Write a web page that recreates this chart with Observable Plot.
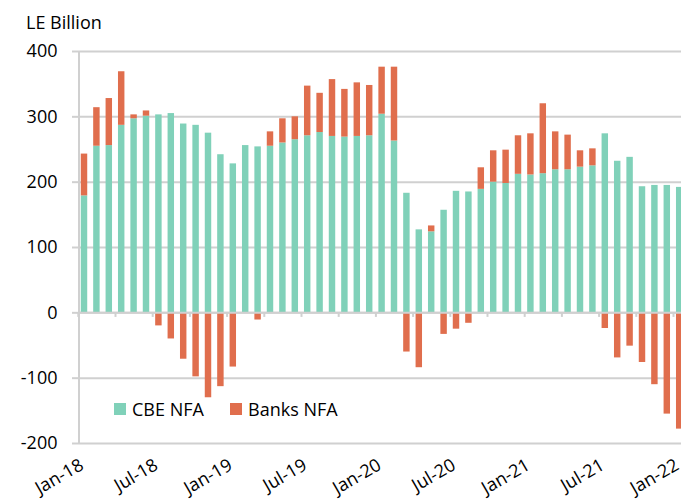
<!DOCTYPE html>
<html>
<head>
<meta charset="utf-8">
<script src="https://cdn.jsdelivr.net/npm/d3@7"></script>
<script src="https://cdn.jsdelivr.net/npm/@observablehq/plot@0.6"></script>
<style>
  html, body { margin: 0; padding: 0; background: #fff; overflow: hidden; }
  #chart svg { display: block; }
</style>
</head>
<body>
<div id="chart"></div>
<script>
// ---- data ----
const months = [
  "Jan-18","Feb-18","Mar-18","Apr-18","May-18","Jun-18","Jul-18","Aug-18","Sep-18","Oct-18","Nov-18","Dec-18",
  "Jan-19","Feb-19","Mar-19","Apr-19","May-19","Jun-19","Jul-19","Aug-19","Sep-19","Oct-19","Nov-19","Dec-19",
  "Jan-20","Feb-20","Mar-20","Apr-20","May-20","Jun-20","Jul-20","Aug-20","Sep-20","Oct-20","Nov-20","Dec-20",
  "Jan-21","Feb-21","Mar-21","Apr-21","May-21","Jun-21","Jul-21","Aug-21","Sep-21","Oct-21","Nov-21","Dec-21",
  "Jan-22"
];
const cbeNFA = [
  179, 255, 256, 287, 297, 301, 303, 305, 289, 287, 275, 242,
  228, 256, 254, 255, 260, 265, 271, 276, 270, 269, 270, 271,
  304, 263, 183, 127, 124, 157, 186, 185, 189, 200, 198, 212,
  211, 213, 219, 219, 223, 225, 274, 232, 238, 193, 195, 195,
  192
];
const banksNFA = [
  64, 59, 72, 82, 6, 8, -20, -40, -71, -98, -130, -113,
  -83, 0, -11, 22, 37, 35, 76, 60, 87, 73, 82, 77,
  72, 113, -60, -84, 9, -33, -25, -16, 33, 48, 51, 59,
  63, 107, 58, 53, 25, 26, -24, -69, -51, -76, -110, -155,
  -178
];
const seriesNames = ["CBE NFA", "Banks NFA"];
const seriesColors = ["#80d1b9", "#e06e4d"];
const yTicks = [-200, -100, 0, 100, 200, 300, 400];
const labelMonths = ["Jan-18","Jul-18","Jan-19","Jul-19","Jan-20","Jul-20","Jan-21","Jul-21","Jan-22"];
const unitLabel = "LE Billion";

// ---- table ----
const data = [];
months.forEach((m, i) => {
  data.push({month: m, series: seriesNames[0], value: cbeNFA[i]});
  data.push({month: m, series: seriesNames[1], value: banksNFA[i]});
});
const tickMonths = months.filter((m, i) => i % 3 === 0);

const grid = "#d0d0d0";
const xRange = [77.8, 685.4];
const step = (xRange[1] - xRange[0]) / months.length;
const font = "Open Sans";

const plot = Plot.plot({
  width: 681,
  height: 500,
  marginLeft: 79,
  marginRight: 0,
  marginTop: 51,
  marginBottom: 57,
  style: {fontFamily: font, fontSize: "18px", color: "#000", background: "#fff"},
  x: {type: "band", domain: months, range: xRange, round: false, paddingInner: 0.48, paddingOuter: 0.24, axis: null},
  y: {domain: [-200, 400], axis: null},
  color: {domain: seriesNames, range: seriesColors},
  marks: [
    Plot.gridY(yTicks, {stroke: grid, strokeOpacity: 1, strokeWidth: 2}),
    Plot.axisY(yTicks, {tickSize: 7, tickPadding: 15, stroke: grid, strokeWidth: 2, fill: "#000", fontSize: 18, label: null, tickFormat: d => String(d)}),
    Plot.barY(data, {x: "month", y: "value", fill: "series"}),
    Plot.ruleY([0], {stroke: grid, strokeWidth: 2}),
    Plot.ruleX(tickMonths, {x: d => d, y1: 0, y2: -7, dx: -step / 2, stroke: grid, strokeWidth: 2}),
    Plot.text(labelMonths, {x: d => d, frameAnchor: "bottom", rotate: -30, textAnchor: "end", lineAnchor: "top", dy: 14, dx: -6, fontSize: 18, fill: "#000"})
  ]
});

const svg = d3.select(plot);
const y = plot.scale("y");
// left axis line
svg.append("line")
  .attr("x1", 79).attr("x2", 79)
  .attr("y1", y.apply(400)).attr("y2", y.apply(-200))
  .attr("stroke", grid).attr("stroke-width", 2);
// unit title
svg.append("text")
  .attr("x", 26).attr("y", 29).attr("text-anchor", "start")
  .attr("font-family", font).attr("font-size", 18).attr("fill", "#000")
  .text(unitLabel);
// legend
const legendItems = [
  {name: seriesNames[0], color: seriesColors[0], x: 114},
  {name: seriesNames[1], color: seriesColors[1], x: 230}
];
const lg = svg.append("g").attr("text-anchor", "start");
legendItems.forEach(it => {
  lg.append("rect").attr("x", it.x).attr("y", 403).attr("width", 12).attr("height", 12).attr("fill", it.color);
  lg.append("text").attr("x", it.x + 18).attr("y", 415.5)
    .attr("font-family", font).attr("font-size", 18).attr("fill", "#000").text(it.name);
});

document.getElementById("chart").appendChild(plot);
</script>
</body>
</html>
